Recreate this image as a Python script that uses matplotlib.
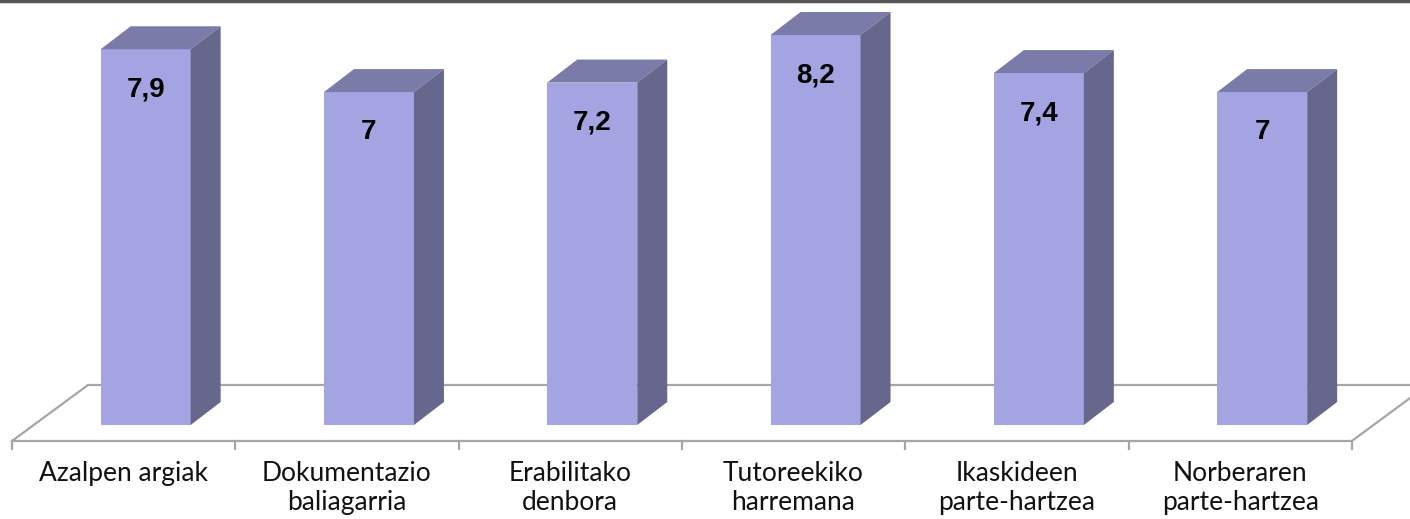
import numpy as np
import matplotlib.pyplot as plt
from matplotlib.patches import Polygon

categories = ["Azalpen argiak", "Dokumentazio\nbaliagarria", "Erabilitako\ndenbora",
              "Tutoreekiko\nharremana", "Ikaskideen\nparte-hartzea", "Norberaren\nparte-hartzea"]
values = [7.9, 7.0, 7.2, 8.2, 7.4, 7.0]
value_labels = ["7,9", "7", "7,2", "8,2", "7,4", "7"]

front_c = "#a5a4e2"
top_c = "#7b7ba9"
side_c = "#67678d"
floor_c = "#a6a6a6"

fig = plt.figure(figsize=(14.1, 5.19), dpi=100)
ax = fig.add_axes([0, 0, 1, 1])

# pixel scales: 223.3 px per category, 47.56 px per unit
sx, sy = 223.3, 47.56
ax.set_xlim(-12 / sx, (1410 - 12) / sx)
ax.set_ylim(-(519 - 425) / sy, 425 / sy)
ax.axis("off")

n = len(categories)
bw = 90 / sx
ddx, ddy = 30 / sx, 23 / sy          # bar depth
fdx, fdy = 76 / sx, 56 / sy          # floor depth
floor_y = -16 / sy
shift = 22 / sx                      # bar front plane offset from floor front

# floor
ax.plot([0, fdx, n + fdx + 1], [floor_y, floor_y + fdy, floor_y + fdy],
        color=floor_c, lw=1.6, zorder=1)
ax.plot([0, n, n + fdx], [floor_y, floor_y, floor_y + fdy],
        color=floor_c, lw=1.6, zorder=1)
for i in range(n + 1):
    ax.plot([i, i], [floor_y, floor_y - 8 / sy], color=floor_c, lw=1.6, zorder=1)

for i, (v, lab) in enumerate(zip(values, value_labels)):
    x0 = i + 0.5 + shift - bw / 2
    x1 = x0 + bw
    ax.add_patch(Polygon([(x0, 0), (x1, 0), (x1, v), (x0, v)], closed=True,
                         fc=front_c, ec="none", zorder=3))
    ax.add_patch(Polygon([(x0, v), (x1, v), (x1 + ddx, v + ddy), (x0 + ddx, v + ddy)],
                         closed=True, fc=top_c, ec="none", zorder=3))
    ax.add_patch(Polygon([(x1, 0), (x1 + ddx, ddy), (x1 + ddx, v + ddy), (x1, v)],
                         closed=True, fc=side_c, ec="none", zorder=3))
    ax.text((x0 + x1) / 2, v - 40 / sy, lab, ha="center", va="center",
            fontsize=20, fontweight="bold", family="Liberation Sans", zorder=4)

for i, c in enumerate(categories):
    ax.text(i + 0.5, floor_y - 20 / sy, c, ha="center", va="top", fontsize=19,
            family="Lato", linespacing=1.2, color="#111111")

# top border of the chart frame
ax.plot([-1, n + 2], [425 / sy - 1 / sy] * 2, color="#555555", lw=2.5, zorder=5)

fig.savefig("out.png", dpi=100)
